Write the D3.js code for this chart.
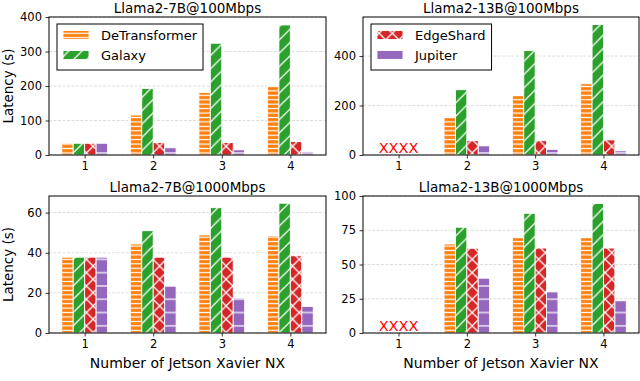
<!DOCTYPE html>
<html>
<head>
<meta charset="utf-8">
<script src="https://cdn.jsdelivr.net/npm/d3@7"></script>
<style>
  body { margin: 0; background: #fff; }
  text { font-family: "DejaVu Sans", sans-serif; }
</style>
</head>
<body>
<div id="chart"></div>
<script>
// number of devices on the x axis
var devices = [1, 2, 3, 4];
var methods = ["DeTransformer", "Galaxy", "EdgeShard", "Jupiter"];

// Llama2-7B @ 100Mbps
var detr_7b_100 = [34, 116, 181, 201];
var galaxy_7b_100 = [34, 193, 324, 377];
var edge_7b_100 = [34, 36, 36, 39];
var jupiter_7b_100 = [34, 21, 15, 10];

// Llama2-13B @ 100Mbps (1 device: out of memory)
var detr_13b_100 = [null, 155, 240, 288];
var galaxy_13b_100 = [null, 264, 422, 528];
var edge_13b_100 = [null, 58, 58, 61];
var jupiter_13b_100 = [null, 37, 23, 17];

// Llama2-7B @ 1000Mbps
var detr_7b_1000 = [37.8, 44.4, 48.9, 48.4];
var galaxy_7b_1000 = [37.8, 51, 62.5, 64.7];
var edge_7b_1000 = [37.8, 37.8, 37.8, 38.5];
var jupiter_7b_1000 = [37.8, 23.5, 17.4, 13.2];

// Llama2-13B @ 1000Mbps
var detr_13b_1000 = [null, 65, 69.6, 69.6];
var galaxy_13b_1000 = [null, 77.2, 87.4, 94.6];
var edge_13b_1000 = [null, 61.9, 62, 62];
var jupiter_13b_1000 = [null, 40, 30, 23.5];

// tick labels
var yticks_7b_100 = [0, 100, 200, 300, 400];
var yticks_13b_100 = [0, 200, 400];
var yticks_7b_1000 = [0, 20, 40, 60];
var yticks_13b_1000 = [0, 25, 50, 75, 100];
var ylim_tops = [400, 558, 68.3, 100];

var titles = ["Llama2-7B@100Mbps", "Llama2-13B@100Mbps", "Llama2-7B@1000Mbps", "Llama2-13B@1000Mbps"];

var colors = ["#ff7f0e", "#2ca02c", "#d62728", "#9467bd"];

var W = 640, H = 381;
var svg = d3.select("#chart").append("svg")
      .attr("width", W)
      .attr("height", H);

// hatch patterns (white lines like matplotlib hatches)
var defs = svg.append("defs");
function hatch(id, color, size, lines) {
      var p = defs.append("pattern")
            .attr("id", id)
            .attr("patternUnits", "userSpaceOnUse")
            .attr("width", size)
            .attr("height", size);
      p.append("rect").attr("width", size).attr("height", size).attr("fill", color);
      lines.forEach(function (l) {
            p.append("line")
                  .attr("x1", l[0]).attr("y1", l[1]).attr("x2", l[2]).attr("y2", l[3])
                  .attr("stroke", "#fff").attr("stroke-width", 1.2);
      });
}
var s = 13.3;
hatch("h0", colors[0], s / 3, [[0, s / 6, s / 3, s / 6]]);
hatch("h1", colors[1], s, [[0, s, s, 0], [-2, 2, 2, -2], [s - 2, s + 2, s + 2, s - 2]]);
hatch("h2", colors[2], s, [[0, s, s, 0], [-2, 2, 2, -2], [s - 2, s + 2, s + 2, s - 2],
      [0, 0, s, s], [-2, s - 2, 2, s + 2], [s - 2, -2, s + 2, 2]]);
hatch("h3", colors[3], s, [[0, s / 2, s, s / 2]]);

var panels = [
      { x0: 49, x1: 326, y0: 17, y1: 155, series: [detr_7b_100, galaxy_7b_100, edge_7b_100, jupiter_7b_100], yticks: yticks_7b_100, legend: [0, 1], ylabel: true, xlabel: false },
      { x0: 363, x1: 639, y0: 17, y1: 155, series: [detr_13b_100, galaxy_13b_100, edge_13b_100, jupiter_13b_100], yticks: yticks_13b_100, legend: [2, 3], ylabel: false, xlabel: false },
      { x0: 49, x1: 326, y0: 196, y1: 333, series: [detr_7b_1000, galaxy_7b_1000, edge_7b_1000, jupiter_7b_1000], yticks: yticks_7b_1000, legend: [], ylabel: true, xlabel: true },
      { x0: 363, x1: 639, y0: 196, y1: 333, series: [detr_13b_1000, galaxy_13b_1000, edge_13b_1000, jupiter_13b_1000], yticks: yticks_13b_1000, legend: [], ylabel: false, xlabel: true }
];

var step = 0.167;

panels.forEach(function (p, pi) {
      var g = svg.append("g");
      var xScale = d3.scaleLinear().domain([0.48, 4.52]).range([p.x0, p.x1]);
      var yScale = d3.scaleLinear().domain([0, ylim_tops[pi]]).range([p.y1, p.y0]);

      // grid
      g.selectAll(".grid")
            .data(p.yticks)
            .enter()
            .append("line")
            .attr("x1", p.x0).attr("x2", p.x1)
            .attr("y1", function (d) { return yScale(d); })
            .attr("y2", function (d) { return yScale(d); })
            .attr("stroke", "#d4d4d4")
            .attr("stroke-width", 0.8)
            .attr("stroke-dasharray", "3,1.5");

      // bars
      var bw = xScale(step) - xScale(0);
      p.series.forEach(function (vals, si) {
            var rows = devices.map(function (n, i) { return { n: n, v: vals[i] }; })
                  .filter(function (d) { return d.v != null; });
            g.selectAll(".bar" + si)
                  .data(rows)
                  .enter()
                  .append("rect")
                  .attr("x", function (d) { return xScale(d.n + (si - 1.5) * step) - bw / 2; })
                  .attr("y", function (d) { return yScale(d.v); })
                  .attr("width", bw)
                  .attr("height", function (d) { return yScale(0) - yScale(d.v); })
                  .attr("fill", "url(#h" + si + ")")
                  .attr("stroke", "#fff")
                  .attr("stroke-width", 0.9);
      });

      // missing runs marked with red XXXX
      var missing = devices.filter(function (n, i) { return p.series[0][i] == null; });
      g.selectAll(".oom")
            .data(missing)
            .enter()
            .append("text")
            .attr("x", function (d) { return xScale(d); })
            .attr("y", yScale(0) - 2)
            .attr("text-anchor", "middle")
            .attr("fill", "red")
            .attr("font-size", 14.5)
            .text("XXXX");

      // axes
      var ax = g.append("g")
            .attr("transform", "translate(0," + p.y1 + ")")
            .call(d3.axisBottom(xScale).tickValues(devices).tickFormat(d3.format("d")).tickSize(3.5).tickPadding(3.5));
      var ay = g.append("g")
            .attr("transform", "translate(" + p.x0 + ",0)")
            .call(d3.axisLeft(yScale).tickValues(p.yticks).tickSize(3.5).tickPadding(3.5));
      [ax, ay].forEach(function (a) {
            a.select(".domain").remove();
            a.selectAll("text").attr("font-size", 11.5).attr("fill", "#000")
                  .style("font-family", "DejaVu Sans");
            a.selectAll("line").attr("stroke", "#000").attr("stroke-width", 0.8);
      });

      // frame
      g.append("rect")
            .attr("x", p.x0).attr("y", p.y0)
            .attr("width", p.x1 - p.x0).attr("height", p.y1 - p.y0)
            .attr("fill", "none")
            .attr("stroke", "#000")
            .attr("stroke-width", 1);

      // title
      g.append("text")
            .attr("x", (p.x0 + p.x1) / 2)
            .attr("y", p.y0 - 4.5)
            .attr("text-anchor", "middle")
            .attr("font-size", 13.5)
            .text(titles[pi]);

      if (p.ylabel) {
            g.append("text")
                  .attr("transform", "translate(13," + (p.y0 + p.y1) / 2 + ")rotate(-90)")
                  .attr("text-anchor", "middle")
                  .attr("font-size", 13.5)
                  .text("Latency (s)");
      }
      if (p.xlabel) {
            g.append("text")
                  .attr("x", (p.x0 + p.x1) / 2)
                  .attr("y", 368)
                  .attr("text-anchor", "middle")
                  .attr("font-size", 14)
                  .text("Number of Jetson Xavier NX");
      }

      // legend
      if (p.legend.length) {
            var lx = p.x0 + 8, ly = p.y0 + 7;
            var lg = g.append("g");
            var frame = lg.append("rect")
                  .attr("x", lx).attr("y", ly)
                  .attr("height", 46)
                  .attr("fill", "#fff")
                  .attr("stroke", "#000")
                  .attr("stroke-width", 1);
            var maxw = 0;
            p.legend.forEach(function (mi, k) {
                  var cy = ly + 11 + k * 20;
                  lg.append("rect")
                        .attr("x", lx + 6).attr("y", cy - 4.5)
                        .attr("width", 26).attr("height", 9)
                        .attr("fill", "url(#h" + mi + ")")
                        .attr("stroke", "#fff")
                        .attr("stroke-width", 0.9);
                  var t = lg.append("text")
                        .attr("x", lx + 44)
                        .attr("y", cy + 4.5)
                        .attr("font-size", 13)
                        .text(methods[mi]);
                  maxw = Math.max(maxw, t.node().getComputedTextLength());
            });
            frame.attr("width", 44 + maxw + 6);
      }
});
</script>
</body>
</html>
